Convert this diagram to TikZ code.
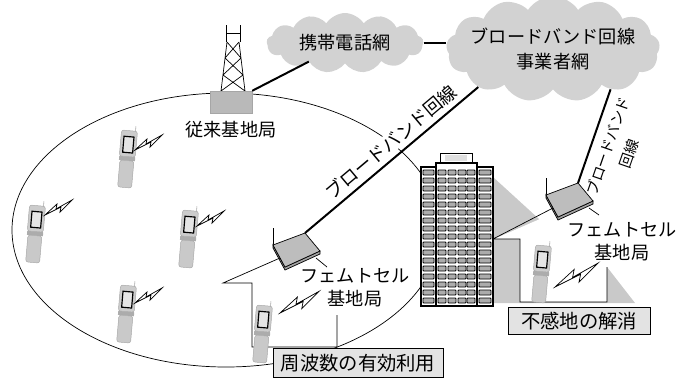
\documentclass[tikz,border=0pt]{standalone}
\usepackage{fontspec}
\setmainfont{Noto Sans CJK JP}
\usetikzlibrary{shapes.symbols,positioning}

\begin{document}
\begin{tikzpicture}[
    x=0.03cm, y=-0.03cm,
    font=\fontsize{15.5}{19}\selectfont,
    net/.style={cloud,cloud puffs=13,cloud puff arc=115,aspect=3,fill=gray!35,inner sep=1pt,align=center},
    wire/.style={line width=1.7pt},
    outl/.style={line width=0.6pt},
    tag/.style={draw,line width=0.6pt,fill=gray!22,inner sep=0pt,font=\fontsize{16.5}{19}\selectfont},
    umbra/.style={fill=gray!42},
    win/.style={draw,line width=0.8pt,fill=gray!65,rounded corners=0.6pt},
    twoline/.style={align=center,font=\fontsize{15.5}{19.5}\selectfont},
    phone/.pic={
      \draw[gray!70,line width=0.5pt] (14,0) -- (14,6);
      \filldraw[draw=gray!70,fill=gray!40,rounded corners=2pt] (0,5) rectangle (16,31);
      \filldraw[line width=1pt,fill=gray!20] (3,11) rectangle (13,27);
      \fill[gray!65] (0,31) rectangle (16,35);
      \filldraw[draw=gray!70,fill=gray!42,rounded corners=2pt] (1,35) rectangle (15,62);
    },
    bolt/.pic={
      \filldraw[fill=white,line width=0.6pt] (0,0) -- (12,-11) -- (11,-6) -- (27,-15) -- (15,-3) -- (16,-8) -- cycle;
    },
    femto/.pic={
      \draw[outl] (-23,-5) -- (-23,-22);
      \filldraw[outl,fill=gray!72] (-23,-5) -- (-11,17) -- (24,1) -- (24,4) -- (-11,20) -- (-23,-2) -- cycle;
      \filldraw[outl,fill=gray!52] (-23,-5) -- (9,-17) -- (24,1) -- (-11,17) -- cycle;
      \coordinate (-top) at (9,-17);
      \coordinate (-eave) at (-16,8);
      \coordinate (-lead) at (20,8);
    }
  ]
  \useasboundingbox (0,0) rectangle (677,378);

  % shadow of the tower block, house cut out of it
  \fill[umbra] (493,177) -- (539,219) -- (600,262) -- (607,267) -- (635,303) -- (493,303) -- cycle;
  \fill[white] (494,239) -- (556,212) -- (607,256) -- (607,302) -- (520,302) -- (520,239) -- cycle;

  % macro cell
  \draw[outl] (226,230) ellipse [x radius=214, y radius=137];

  % tower block
  \filldraw[outl,fill=white] (440,153) rectangle (472,163);
  \fill[gray!25] (445,155) rectangle (467,161);
  \filldraw[line width=0.9pt,fill=white] (421,167) rectangle (493,306);
  \filldraw[line width=0.9pt,fill=white] (436,163) rectangle (477,306);
  \foreach \r in {0,...,16} {
    \path[win] (423,170+8*\r) rectangle ++(11,5);
    \foreach \c in {438,448,458,467}
      \path[win] (\c,170+8*\r) rectangle ++(8,5);
    \path[win] (479,170+8*\r) rectangle ++(12,5);
  }

  % base station tower
  \draw[outl] (226,25) -- (226,42) (240,25) -- (240,42) (226,33) -- (240,33);
  \draw[outl] (227,42) -- (221,91) (239,42) -- (245,91)
    (227,42) -- (241,58) (239,42) -- (225,58)
    (225,58) -- (243,75) (241,58) -- (223,75)
    (223,75) -- (245,91) (243,75) -- (221,91);
  \node[draw=gray!70,fill=gray!55,minimum width=1.26cm,minimum height=0.66cm,inner sep=0pt] (bs) at (231,102) {};
  \node (lbs) at (231,130) {従来基地局};

  % networks
  \node[net,minimum width=4.7cm,minimum height=1.4cm] (c1) at (345,43) {携帯電話網};
  \node[net,aspect=2.6,inner sep=-7pt,minimum width=6cm,minimum height=2.3cm,font=\fontsize{15.5}{21}\selectfont] (c2) at (553,49) {ブロードバンド回線\\事業者網};

  % femtocells
  \pic (fL) at (296,250) {femto};
  \pic (fR) at (569,200) {femto};
  \draw[outl] (fL-lead) -- ++(11,9);
  \draw[outl] (fR-lead) -- ++(10,7);

  % houses
  \coordinate (eL) at (223,283);
  \coordinate (eR) at (493,239);
  \draw[outl] (fL-eave) -- (eL) -- (252,283) -- (252,347) -- (337,347) -- (337,315);
  \draw[outl] (fR-eave) -- (eR) -- (520,239) -- (520,302) -- (607,302) -- (607,267);

  % backbone links
  \draw[wire] (bs.north east) -- (c1);
  \draw[wire] (c1.east) -- (c2.west |- c1.east);
  \draw[wire] (fL-top) -- node[sloped,pos=0.55,above=3pt,fill=white,inner sep=1pt] (bbL) {ブロードバンド回線} (c2.207);
  \draw[wire] (fR-top) -- node[sloped,pos=0.45,below=6pt,align=center,inner sep=1pt,font=\fontsize{12.5}{19}\selectfont] (bbR) {ブロードバンド\\回線} (c2.325);

  % handsets
  \foreach \hx/\hy in {122/125,30/200,183/205,121/280,257/300,536/240}
    \pic[rotate=-5] at (\hx,\hy) {phone};
  \foreach \bx/\by in {135/150,45/215,197/226,135/303}
    \pic at (\bx,\by) {bolt};
  \pic[scale=1.45] at (280,313) {bolt};
  \pic[scale=1.6] at (555,287) {bolt};

  \node[twoline] (lfL) at (355,288) {フェムトセル\\基地局};
  \node[twoline] (lfR) at (622,242) {フェムトセル\\基地局};
  \node[tag,minimum width=4.26cm,minimum height=0.8cm] (t1) at (579,321) {不感地の解消};
  \node[tag,minimum width=5.1cm,minimum height=0.87cm] (t2) at (358,363) {周波数の有効利用};
\end{tikzpicture}
\end{document}
